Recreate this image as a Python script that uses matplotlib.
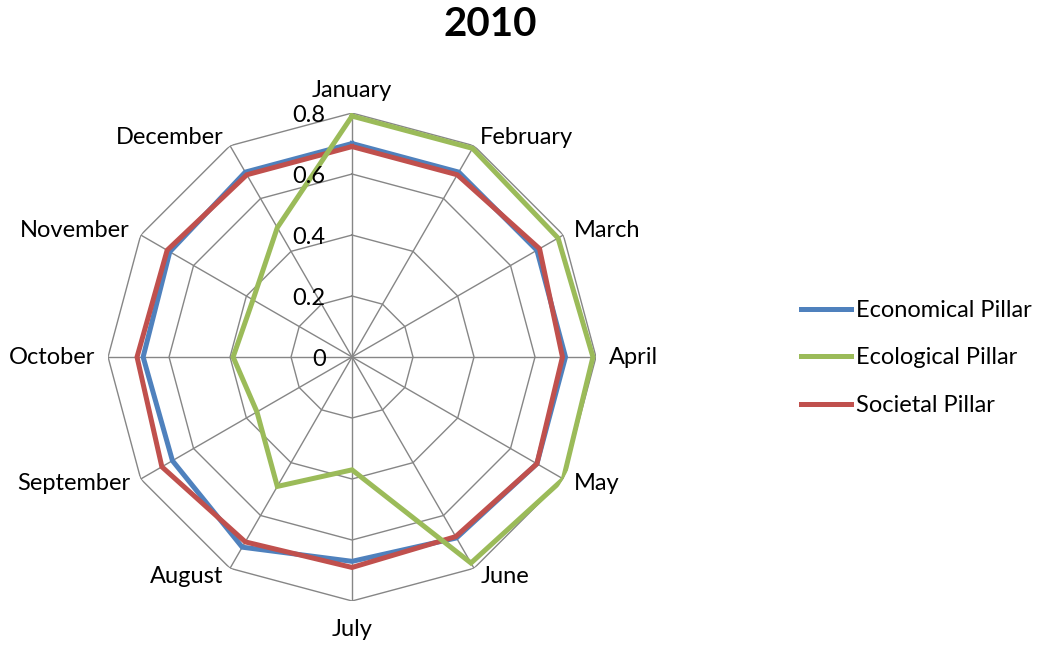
import numpy as np
import matplotlib.pyplot as plt

plt.rcParams['font.family'] = ['Lato', 'DejaVu Sans']

months = ['January', 'February', 'March', 'April', 'May', 'June',
          'July', 'August', 'September', 'October', 'November', 'December']
economical = [0.70, 0.70, 0.70, 0.70, 0.70, 0.685, 0.67, 0.72, 0.68, 0.685, 0.69, 0.70]
ecological = [0.79, 0.79, 0.78, 0.79, 0.80, 0.78, 0.37, 0.49, 0.36, 0.39, 0.375, 0.49]
societal = [0.69, 0.69, 0.71, 0.69, 0.70, 0.68, 0.69, 0.70, 0.72, 0.705, 0.70, 0.69]
levels = [0, 0.2, 0.4, 0.6, 0.8]
level_labels = ['0', '0.2', '0.4', '0.6', '0.8']

series = [('Economical Pillar', economical, '#4F81BD'),
          ('Ecological Pillar', ecological, '#9BBB59'),
          ('Societal Pillar', societal, '#C0504D')]

n = len(months)
angles = np.arange(n) * 2 * np.pi / n
closed = np.append(angles, angles[0])

fig = plt.figure(figsize=(10.46, 6.45), dpi=100)
ax = fig.add_axes([0.1033, 0.0682, 0.4665, 0.7566], projection='polar')
ax.set_theta_zero_location('N')
ax.set_theta_direction(-1)
ax.set_ylim(0, 0.8)
ax.grid(False)
ax.spines['polar'].set_visible(False)
ax.set_xticks([])
ax.set_yticks([])

grid_color = '#868686'
# polygon gridlines and spokes
for r in levels[1:]:
    ax.plot(closed, [r] * (n + 1), color=grid_color, lw=1.0, zorder=1)
for a in angles:
    ax.plot([a, a], [0, levels[-1]], color=grid_color, lw=1.0, zorder=1)

# series
zorders = {'Economical Pillar': 3, 'Societal Pillar': 4, 'Ecological Pillar': 5}
for name, vals, col in series:
    ax.plot(closed, vals + vals[:1], color=col, lw=3.6, label=name,
            zorder=zorders[name], solid_joinstyle='miter')

# radial value labels
for r, lab in zip(levels, level_labels):
    ax.annotate(lab, xy=(0, r), xytext=(-19, -1.5), textcoords='offset points',
                ha='right', va='center', fontsize=17, zorder=6)

# month labels
for a, m in zip(angles, months):
    s, c = np.sin(a), np.cos(a)
    if abs(s) < 0.1:
        ha = 'center'
        va = 'bottom' if c > 0 else 'top'
        off = (0, 9 if c > 0 else -13)
    else:
        ha = 'left' if s > 0 else 'right'
        va = 'center'
        off = (9 * s, 6.5 * c)
    ax.annotate(m, xy=(a, levels[-1]), xytext=off, textcoords='offset points',
                ha=ha, va=va, fontsize=17, annotation_clip=False)

fig.text(0.469, 0.962, '2010', ha='center', va='center', fontsize=29,
         fontweight='bold')

handles, labels = ax.get_legend_handles_labels()
fig.legend(handles, labels, loc='center left', bbox_to_anchor=(0.7545, 0.445),
           frameon=False, fontsize=17, handlelength=2.1, handletextpad=0.25,
           labelspacing=1.12, borderpad=0)

fig.savefig('out.png', dpi=100)
